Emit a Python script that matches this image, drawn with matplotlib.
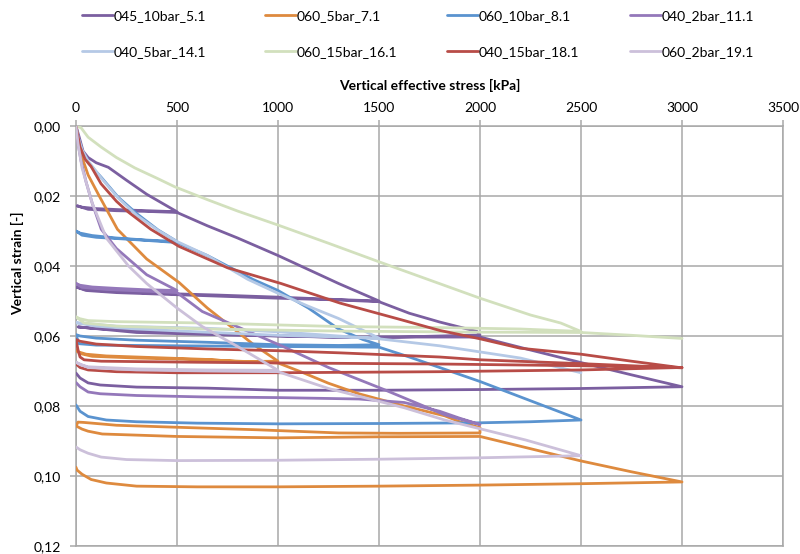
import matplotlib
matplotlib.use("Agg")
import matplotlib.pyplot as plt

plt.rcParams['font.family'] = ['Lato', 'DejaVu Sans']

# ---------------- data (stress kPa, vertical strain) ----------------
labels = ["045_10bar_5.1", "060_5bar_7.1", "060_10bar_8.1", "040_2bar_11.1",
          "040_5bar_14.1", "060_15bar_16.1", "040_15bar_18.1", "060_2bar_19.1"]
colors = ["#7B5FA0", "#DE8A3E", "#5A93CF", "#9478BA",
          "#B5C9E6", "#D2E0BD", "#B84C47", "#CCC0DA"]

s_045_10bar = [0, 15, 35, 60, 100, 160, 250, 350, 500,
               400, 250, 100, 30, 5,
               60, 200, 350, 500,
               650, 800, 1000, 1150, 1300, 1400, 1500,
               1300, 1000, 700, 400, 150, 40, 0,
               50, 200, 500, 1000, 1300, 1500,
               1650, 1800, 1985, 2000,
               1600, 1300, 900, 650, 300, 80, 10,
               300, 800, 1300, 2000,
               2250, 2500, 2750, 3000,
               2500, 2000, 1500, 1000, 650, 300, 120, 60, 20, 0]
e_045_10bar = [0, 0.003, 0.0072, 0.0090, 0.0105, 0.0118, 0.0155, 0.0195, 0.0245,
               0.0243, 0.0240, 0.0236, 0.0232, 0.0228,
               0.0238, 0.0242, 0.0244, 0.0247,
               0.0285, 0.0320, 0.0370, 0.0410, 0.0450, 0.0475, 0.0500,
               0.0496, 0.0489, 0.0483, 0.0478, 0.0472, 0.0466, 0.0460,
               0.0470, 0.0476, 0.0482, 0.0492, 0.0497, 0.0502,
               0.0535, 0.0560, 0.0587, 0.0597,
               0.0603, 0.0604, 0.0598, 0.0591, 0.0585, 0.0578, 0.0574,
               0.0590, 0.0598, 0.0603, 0.0603,
               0.0640, 0.0676, 0.0711, 0.0745,
               0.0750, 0.0753, 0.0755, 0.0755, 0.0749, 0.0746, 0.0740, 0.0734, 0.0720, 0.0706]

s_060_5bar = [0, 10, 30, 60, 115, 205, 350, 510, 650, 760, 880, 1000,
              800, 650, 400, 150, 50, 10, 0,
              20, 80, 300, 650, 1000,
              1125, 1250, 1400, 1625, 1825, 1900, 2000, 2000,
              1600, 1300, 900, 460, 200, 40, 10,
              0, 30, 60, 130, 500, 1000, 1500, 2000,
              2250, 2500, 2750, 3000,
              2500, 2000, 1500, 1000, 600, 300, 150, 75, 30, 5, 0]
e_060_5bar = [0, 0.004, 0.009, 0.014, 0.020, 0.0295, 0.038, 0.0447, 0.052, 0.057, 0.0625, 0.0672,
              0.0673, 0.0667, 0.0662, 0.0657, 0.0652, 0.0645, 0.0640,
              0.0650, 0.0658, 0.0663, 0.0668, 0.0677,
              0.0705, 0.0735, 0.0765, 0.0800, 0.0828, 0.0845, 0.0862, 0.0877,
              0.0878, 0.0877, 0.0868, 0.0860, 0.0855, 0.0847, 0.0846,
              0.0857, 0.0866, 0.0872, 0.0880, 0.0887, 0.0891, 0.0888, 0.0887,
              0.0922, 0.0957, 0.0988, 0.1017,
              0.1022, 0.1026, 0.1029, 0.1031, 0.1031, 0.1029, 0.1020, 0.1010, 0.0995, 0.0983, 0.0975]

s_060_10bar = [0, 10, 30, 60, 124, 208, 300, 406, 500,
               350, 200, 80, 20, 0,
               30, 100, 300, 500,
               650, 875, 1000, 1150, 1300, 1420, 1500,
               1300, 1000, 650, 300, 100, 20, 0,
               15, 100, 500, 1000, 1500,
               1650, 1800, 2000, 2250, 2500,
               2250, 2000, 1500, 1000, 600, 300, 150, 60, 20, 0]
e_060_10bar = [0, 0.003, 0.007, 0.0105, 0.0146, 0.0203, 0.025, 0.0297, 0.0330,
               0.0326, 0.0320, 0.0313, 0.0306, 0.0300,
               0.0312, 0.0318, 0.0325, 0.0333,
               0.0370, 0.0438, 0.0470, 0.0520, 0.0580, 0.0610, 0.0625,
               0.0627, 0.0625, 0.0618, 0.0612, 0.0606, 0.0600, 0.0596,
               0.0622, 0.0626, 0.0628, 0.0630, 0.0632,
               0.0660, 0.0690, 0.0730, 0.0785, 0.0840,
               0.0845, 0.0848, 0.0850, 0.0851, 0.0849, 0.0845, 0.0840, 0.0830, 0.0815, 0.0797]

s_040_2bar = [0, 10, 25, 50, 80, 125, 200, 260, 350, 500,
              350, 200, 80, 20, 0,
              30, 150, 350, 500,
              625, 825, 1025, 1250, 1525, 1825, 2000,
              1900, 1800, 1625, 1400, 1000, 625, 300, 120, 60, 20, 0]
e_040_2bar = [0, 0.005, 0.010, 0.016, 0.022, 0.0295, 0.035, 0.038, 0.0425, 0.0470,
              0.0468, 0.0464, 0.0460, 0.0455, 0.0450,
              0.0461, 0.0467, 0.0472, 0.0476,
              0.0530, 0.0580, 0.0630, 0.0690, 0.0753, 0.0825, 0.0853,
              0.0835, 0.0815, 0.0790, 0.0780, 0.0776, 0.0774, 0.0770, 0.0765, 0.0760, 0.0745, 0.0733]

s_040_5bar = [0, 10, 30, 60, 124, 208, 300, 406, 500, 650, 850, 1000, 1150, 1300, 1500,
              1000, 600, 300, 100, 0,
              200, 650, 1000, 1500,
              1800, 2200, 2500]
e_040_5bar = [0, 0.003, 0.0068, 0.010, 0.0148, 0.0205, 0.0255, 0.0298, 0.0330, 0.037, 0.0438, 0.0478, 0.0515, 0.0550, 0.0606,
              0.0598, 0.0588, 0.0580, 0.0572, 0.0562,
              0.0572, 0.0578, 0.0588, 0.0608,
              0.0628, 0.0663, 0.0705]

s_060_15bar = [0, 25, 60, 124, 200, 292, 400, 490, 653, 800, 1000, 1250, 1500, 1750, 2000, 2250, 2400, 2500,
               2200, 1800, 1300, 650, 200, 60, 15, 0,
               40, 200, 650, 1300, 2000, 2500,
               2750, 3000]
e_060_15bar = [0, 0.0005, 0.0032, 0.0060, 0.0090, 0.0120, 0.0149, 0.0174, 0.0211, 0.0243, 0.0283, 0.0335, 0.0388, 0.0440, 0.0492, 0.0540, 0.0563, 0.0587,
               0.0580, 0.0576, 0.0573, 0.0563, 0.0559, 0.0556, 0.0550, 0.0545,
               0.0563, 0.0572, 0.0580, 0.0586, 0.0589, 0.0590,
               0.0598, 0.0607]

s_040_15bar = [0, 10, 20, 45, 74, 124, 200, 257, 370, 510, 750, 1015, 1307, 1600, 1800, 2000, 2200, 2500, 2750, 3000,
               2500, 2000, 1800, 1300, 1000, 650, 300, 100, 20, 0,
               10, 20, 40, 125, 600, 1000, 1800, 2500, 3000,
               2500, 1800, 1000, 500, 200, 60, 20, 0]
e_040_15bar = [0, 0.003, 0.006, 0.0095, 0.0115, 0.0165, 0.0215, 0.0245, 0.0295, 0.0344, 0.0405, 0.0450, 0.0506, 0.0552, 0.0584, 0.0608, 0.0635, 0.0652, 0.0672, 0.0691,
               0.0679, 0.0668, 0.0660, 0.0648, 0.0642, 0.0637, 0.0630, 0.0623, 0.0615, 0.0610,
               0.0640, 0.0660, 0.0668, 0.0672, 0.0675, 0.0677, 0.0680, 0.0685, 0.0690,
               0.0697, 0.0702, 0.0705, 0.0705, 0.0702, 0.0697, 0.0690, 0.0680]

s_060_2bar = [0, 10, 30, 80, 150, 260, 350, 500, 625, 800, 1000,
              650, 300, 60, 20, 0,
              60, 300, 650, 1000,
              1250, 1625, 1825, 2000, 2225, 2500,
              2000, 1500, 1000, 500, 250, 125, 60, 20, 0]
e_060_2bar = [0, 0.005, 0.012, 0.022, 0.032, 0.0400, 0.0450, 0.0520, 0.0573, 0.0630, 0.0698,
              0.0697, 0.0694, 0.0688, 0.0682, 0.0675,
              0.0690, 0.0697, 0.0700, 0.0702,
              0.0750, 0.0805, 0.0840, 0.0865, 0.0897, 0.0942,
              0.0948, 0.0952, 0.0955, 0.0956, 0.0953, 0.0946, 0.0935, 0.0925, 0.0917]

series_stress = [s_045_10bar, s_060_5bar, s_060_10bar, s_040_2bar,
                 s_040_5bar, s_060_15bar, s_040_15bar, s_060_2bar]
series_strain = [e_045_10bar, e_060_5bar, e_060_10bar, e_040_2bar,
                 e_040_5bar, e_060_15bar, e_040_15bar, e_060_2bar]

x_ticks = [0, 500, 1000, 1500, 2000, 2500, 3000, 3500]
y_ticks = [0.00, 0.02, 0.04, 0.06, 0.08, 0.10, 0.12]
y_tick_labels = ["0,00", "0,02", "0,04", "0,06", "0,08", "0,10", "0,12"]

# ---------------- figure ----------------
W, H = 800, 554
fig = plt.figure(figsize=(W / 100, H / 100), dpi=100)
L, R, T, B = 76, 783, 126, 546
ax = fig.add_axes([L / W, 1 - B / H, (R - L) / W, (B - T) / H])

grid_c = "#A8A8A8"
handles = []
for xs, ys, c, lab in zip(series_stress, series_strain, colors, labels):
    h, = ax.plot(xs, ys, color=c, lw=2.0, solid_joinstyle='round',
                 solid_capstyle='round', label=lab, zorder=3)
    handles.append(h)

ax.set_xlim(0, 3500)
ax.set_ylim(0.12, 0.0)
ax.set_xticks(x_ticks)
ax.set_yticks(y_ticks)
ax.set_yticklabels(y_tick_labels)
ax.xaxis.tick_top()
ax.xaxis.set_label_position('top')
ax.grid(True, color=grid_c, lw=1.1, zorder=1)
for sp in ax.spines.values():
    sp.set_color(grid_c)
    sp.set_linewidth(1.1)
ax.tick_params(axis='both', colors=grid_c, length=4, width=1.1, labelcolor='black',
               labelsize=10)
ax.tick_params(axis='x', pad=5)
ax.tick_params(axis='y', pad=7)

ax.set_xlabel("Vertical effective stress [kPa]", fontsize=10, fontweight='bold')
ax.xaxis.set_label_coords(0.5, (B - 90) / (B - T))
ax.set_ylabel("Vertical strain [-]", fontsize=10, fontweight='bold')
ax.yaxis.set_label_coords((24 - L) / (R - L), (B - 263) / (B - T))

# legend: 4 columns, 2 rows
col_x = [82, 265, 447, 630]
for ci in range(4):
    hs = [handles[ci], handles[ci + 4]]
    fig.legend(hs, [labels[ci], labels[ci + 4]], loc='upper left',
               bbox_to_anchor=(col_x[ci] / W, 1 - 10 / H), frameon=False,
               fontsize=10, handlelength=2.2, handletextpad=0.1,
               labelspacing=1.75, borderpad=0, borderaxespad=0)

fig.savefig("out.png", dpi=100)
